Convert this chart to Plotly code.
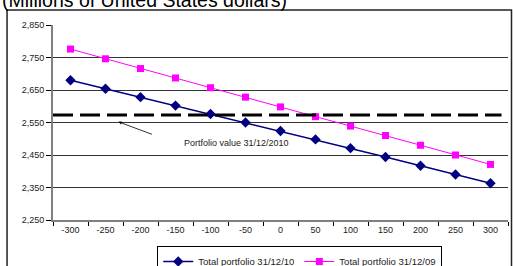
import plotly.graph_objects as go

categories = ["-300", "-250", "-200", "-150", "-100", "-50", "0", "50", "100", "150", "200", "250", "300"]
total_10 = [2680, 2654, 2628, 2602, 2576, 2550, 2524, 2498, 2471, 2444, 2417, 2390, 2363]
total_09 = [2776, 2746, 2716, 2687, 2657, 2628, 2598, 2568, 2539, 2510, 2480, 2450, 2421]
portfolio_value = 2573
y_ticks = [2250, 2350, 2450, 2550, 2650, 2750, 2850]

W, H = 513, 266
L, R, T, B = 53, 4.5, 25, 46
pw = W - L - R
ph = H - T - B

def px(sx):
    return (sx - L) / pw

def py(sy):
    return (H - B - sy) / ph

fig = go.Figure()
fig.add_trace(go.Scatter(
    x=categories, y=total_10, mode="lines+markers", name="Total portfolio 31/12/10",
    line=dict(color="#000080", width=1.5),
    marker=dict(symbol="diamond", size=8, color="#000080"),
))
fig.add_trace(go.Scatter(
    x=categories, y=total_09, mode="lines+markers", name="Total portfolio 31/12/09",
    line=dict(color="#FF00FF", width=1),
    marker=dict(symbol="square", size=7, color="#FF00FF"),
))

fig.add_shape(type="line", xref="paper", yref="y", x0=0, x1=px(502), y0=portfolio_value, y1=portfolio_value,
              line=dict(color="black", width=3, dash="20px,7px"))
# outer chart border
fig.add_shape(type="rect", xref="paper", yref="paper", x0=px(7), x1=px(512), y0=py(285), y1=py(10),
              line=dict(color="#222", width=1.5), layer="below")

fig.add_annotation(x=1.37, y=2552, xref="x", yref="y", ax=35, ay=13, text="", showarrow=True,
                   arrowhead=2, arrowsize=0.8, arrowwidth=0.8, arrowcolor="black")
fig.add_annotation(x=px(182), y=py(143), xref="paper", yref="paper", text="Portfolio value 31/12/2010",
                   showarrow=False, font=dict(size=9, color="#222", family="Arial, Liberation Sans"))
fig.add_annotation(x=px(0), y=py(0), xref="paper", yref="paper", xanchor="left", yanchor="middle",
                   text="(Millions of United States dollars)", showarrow=False,
                   font=dict(size=19.5, color="black", family="Arial, Liberation Sans"))

fig.update_layout(
    width=W, height=H, margin=dict(l=L, r=R, t=T, b=B, autoexpand=False),
    paper_bgcolor="white", plot_bgcolor="white",
    font=dict(family="Arial, Liberation Sans", size=9, color="#222"),
    showlegend=True,
    legend=dict(orientation="h", x=px(300), xanchor="center", y=py(246), yanchor="top",
                bordercolor="black", borderwidth=1, font=dict(size=9.5),
                itemwidth=30, tracegroupgap=0),
    xaxis=dict(type="category", range=[-0.5, 12.5], tickson="boundaries", ticks="outside", ticklen=4,
               tickcolor="black", showline=True, linecolor="#808080", linewidth=2, showgrid=False,
               tickfont=dict(size=9), automargin=False),
    yaxis=dict(range=[2250, 2850], tickvals=y_ticks, tickformat=",", ticks="outside", ticklen=5,
               tickcolor="black", showline=True, linecolor="#808080", linewidth=2,
               showgrid=True, gridcolor="#333", gridwidth=1, zeroline=False, tickfont=dict(size=9),
               automargin=False),
)

fig.write_html("out.html", config={"displayModeBar": False},
               post_script="document.body.style.margin='0';document.body.style.overflow='hidden';")
